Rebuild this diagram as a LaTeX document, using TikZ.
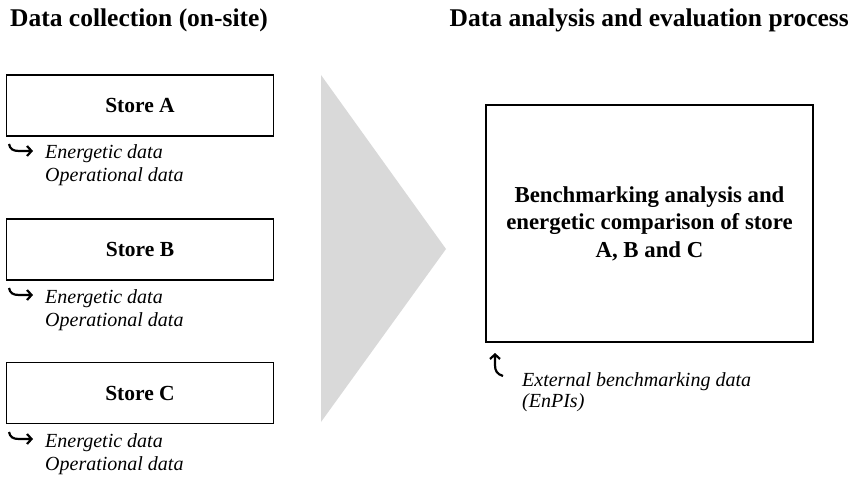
\documentclass[tikz,border=0pt]{standalone}
\usepackage{fontspec}
\setmainfont{Liberation Serif}
\usetikzlibrary{arrows.meta}
\definecolor{trigray}{HTML}{D9D9D9}
\begin{document}
\begin{tikzpicture}[x=1pt,y=-1pt,
  titletext/.style={inner sep=0pt, font=\fontsize{25.5}{30}\selectfont\bfseries},
  storebox/.style={draw=black, line width=1.6pt, minimum width=267pt, minimum height=61pt, inner sep=0pt, font=\fontsize{21.5}{25}\selectfont\bfseries},
  bigbox/.style={draw=black, line width=1.6pt, minimum width=327pt, minimum height=237pt, inner sep=0pt, align=center, font=\fontsize{22.8}{27.5}\selectfont\bfseries},
  datatext/.style={inner sep=0pt, font=\fontsize{20}{23}\selectfont\itshape},
  hookarr/.style={line width=2.2pt, -{Straight Barb[length=4.5pt,width=10pt]}}]
\useasboundingbox (0,0) rectangle (850,478);

% titles
\node[titletext, anchor=base west] (t1) at (10,27) {Data collection (on-site)};
\node[titletext, anchor=base east] (t2) at (849,27) {Data analysis and evaluation process};

% big grey arrow
\fill[trigray] (321,75) -- (446,249) -- (321,422) -- cycle;

% stores
\node[storebox] (sA) at (140,105.5) {Store A};
\node[storebox] (sB) at (140,249.5) {Store B};
\node[storebox] (sC) at (140,393) {Store C};

\node[datatext, anchor=base west] (eA) at (45,159) {Energetic data};
\node[datatext, anchor=base west] (oA) at (45,182) {Operational data};
\node[datatext, anchor=base west] (eB) at (45,303) {Energetic data};
\node[datatext, anchor=base west] (oB) at (45,326) {Operational data};
\node[datatext, anchor=base west] (eC) at (45,447) {Energetic data};
\node[datatext, anchor=base west] (oC) at (45,470) {Operational data};

\draw[hookarr] (9,144) .. controls (10,149) and (13,151) .. (19,151) -- (33,151);
\draw[hookarr] (9,288) .. controls (10,293) and (13,295) .. (19,295) -- (33,295);
\draw[hookarr] (9,432) .. controls (10,437) and (13,439) .. (19,439) -- (33,439);

% analysis box
\node[bigbox] (bench) at (649.5,223.5) {Benchmarking analysis and\\energetic comparison of store\\A, B and C};

\node[datatext, anchor=base west] (x1) at (522,386) {External benchmarking data};
\node[datatext, anchor=base west] (x2) at (522,407) {(EnPIs)};
\draw[hookarr] (503,376) .. controls (497,374) and (495,371) .. (495,365) -- (495,353);
\end{tikzpicture}
\end{document}
